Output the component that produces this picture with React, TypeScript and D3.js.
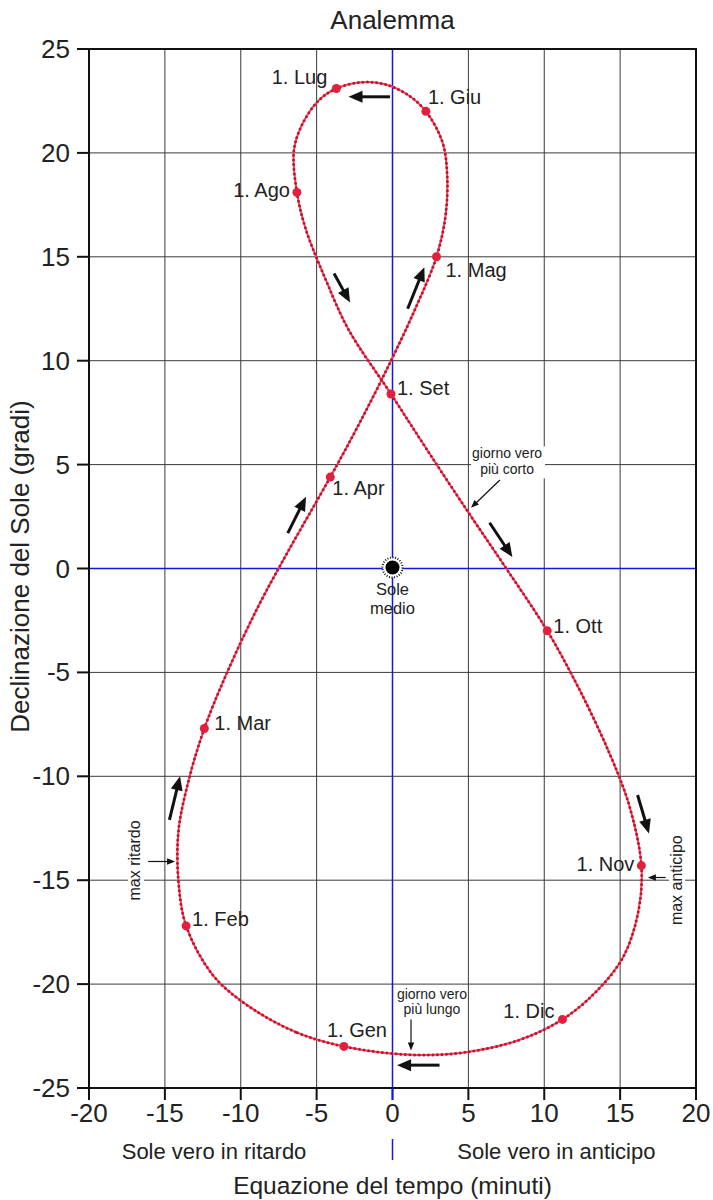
import React from 'react';
import * as d3 from 'd3';

// weekly samples of the analemma
const sampleDates = [
  '1 Gen', '8 Gen', '16 Gen', '23 Gen', '1 Feb', '8 Feb', '16 Feb', '23 Feb',
  '1 Mar', '8 Mar', '16 Mar', '23 Mar', '1 Apr', '8 Apr', '16 Apr', '23 Apr',
  '1 Mag', '8 Mag', '16 Mag', '23 Mag', '1 Giu', '8 Giu', '16 Giu', '23 Giu',
  '1 Lug', '8 Lug', '16 Lug', '23 Lug', '1 Ago', '8 Ago', '16 Ago', '23 Ago',
  '1 Set', '8 Set', '16 Set', '23 Set', '1 Ott', '8 Ott', '16 Ott', '23 Ott',
  '1 Nov', '8 Nov', '16 Nov', '23 Nov', '1 Dic', '8 Dic', '16 Dic', '23 Dic',
];
const equationOfTime = [
  -3.2, -6.4, -9.6, -11.8, -13.6, -14.1, -14.1, -13.4,
  -12.4, -10.9, -8.9, -6.9, -4.1, -2.1, -0.1, 1.5,
  2.9, 3.5, 3.6, 3.3, 2.2, 1.0, -0.5, -2.0,
  -3.7, -4.9, -6.0, -6.5, -6.3, -5.7, -4.4, -2.9,
  -0.1, 2.2, 5.0, 7.5, 10.2, 12.3, 14.3, 15.6,
  16.4, 16.2, 15.2, 13.5, 11.2, 8.3, 4.6, 1.2,
];
const declination = [
  -23.0, -22.3, -21.0, -19.6, -17.2, -15.1, -12.6, -10.1,
  -7.7, -5.0, -1.9, 0.8, 4.4, 7.1, 10.0, 12.5,
  15.0, 17.0, 19.0, 20.5, 22.0, 22.8, 23.3, 23.4,
  23.1, 22.5, 21.3, 20.1, 18.1, 16.3, 13.9, 11.5,
  8.4, 5.8, 2.7, 0.0, -3.0, -5.8, -8.9, -11.4,
  -14.3, -16.5, -18.7, -20.3, -21.7, -22.7, -23.3, -23.4,
];
const monthLabels = ['1. Gen', '1. Feb', '1. Mar', '1. Apr', '1. Mag', '1. Giu',
  '1. Lug', '1. Ago', '1. Set', '1. Ott', '1. Nov', '1. Dic'];

const xTicks = [-20, -15, -10, -5, 0, 5, 10, 15, 20];
const yTicks = [25, 20, 15, 10, 5, 0, -5, -10, -15, -20, -25];

// direction arrows along the curve, [x1, y1, x2, y2] in chart units
const flowArrows = [
  [-0.16, 22.7, -2.9, 22.7],
  [-3.85, 14.2, -2.8, 12.8],
  [1.0, 12.5, 2.1, 14.5],
  [6.4, 2.2, 7.9, 0.55],
  [-6.9, 1.7, -5.7, 3.45],
  [-14.7, -12.1, -14.0, -10.0],
  [16.15, -10.9, 16.9, -12.75],
  [3.1, -23.9, 0.3, -23.9],
];

const FONT = "'Liberation Sans', Arial, Helvetica, sans-serif";
const W = 713, H = 1200;

// label placement around each monthly point (style only)
const labelPos = [
  { dx: -17, dy: -9, a: 'start' }, { dx: 6, dy: 0, a: 'start' }, { dx: 10, dy: 1, a: 'start' },
  { dx: 2, dy: 18, a: 'start' }, { dx: 9, dy: 20, a: 'start' }, { dx: 2, dy: -7, a: 'start' },
  { dx: -9, dy: -4, a: 'end' }, { dx: -7, dy: 5, a: 'end' }, { dx: 6, dy: 1, a: 'start' },
  { dx: 6, dy: 2, a: 'start' }, { dx: -7, dy: 5, a: 'end' }, { dx: -8, dy: -1, a: 'end' },
];

const Arrow = ({ x1, y1, x2, y2, w, head, hw }) => {
  const dx = x2 - x1, dy = y2 - y1;
  const L = Math.hypot(dx, dy);
  const ux = dx / L, uy = dy / L;
  const bx = x2 - ux * head, by = y2 - uy * head;
  const px = -uy, py = ux;
  return (
    <g>
      <line x1={x1} y1={y1} x2={bx + ux} y2={by + uy} stroke="#111" strokeWidth={w} />
      <path d={`M${x2},${y2}L${bx + px * hw},${by + py * hw}L${bx - px * hw},${by - py * hw}Z`} fill="#111" />
    </g>
  );
};

export default function App() {
  const x = d3.scaleLinear().domain([-20, 20]).range([89, 696]);
  const y = d3.scaleLinear().domain([-25, 25]).range([1088, 49]);
  const idx = d3.range(equationOfTime.length);

  const curve = d3.line<number>()
    .x(i => x(equationOfTime[i]))
    .y(i => y(declination[i]))
    .curve(d3.curveCatmullRomClosed.alpha(0.5))(idx);

  const gridX = xTicks.filter(t => t !== 0 && t !== -20 && t !== 20);
  const gridY = yTicks.filter(t => t !== 0 && t !== -25 && t !== 25);

  return (
    <svg width={W} height={H} style={{ position: 'absolute', left: 0, top: 0, background: '#fff' }}
      fontFamily={FONT}>
      <rect width={W} height={H} fill="#fff" />
      <text x={x(0)} y={29} textAnchor="middle" fontSize={26} fill="#222">Analemma</text>

      {/* grid */}
      {gridX.map(t => (
        <line key={'gx' + t} x1={x(t)} x2={x(t)} y1={y(25)} y2={y(-25)} stroke="#3a3a3a" strokeWidth={1} />
      ))}
      {gridY.map(t => (
        <line key={'gy' + t} x1={x(-20)} x2={x(20)} y1={y(t)} y2={y(t)} stroke="#3a3a3a" strokeWidth={1} />
      ))}

      {/* white boxes behind annotations */}
      <rect x={x(7.55) - 36} y={y(5.3) - 12} width={74} height={32} fill="#fff" />
      <rect x={x(-16.9) - 8} y={y(-14.05) - 41} width={16} height={82} fill="#fff" />
      <rect x={x(18.75) - 8} y={y(-15.0) - 46} width={16} height={92} fill="#fff" />

      <line x1={x(0)} x2={x(0)} y1={y(25)} y2={y(-25) + 12} stroke="#1515e6" strokeWidth={1.5} />
      <line x1={x(-20)} x2={x(20)} y1={y(0)} y2={y(0)} stroke="#1515e6" strokeWidth={1.5} />
      <line x1={x(0)} x2={x(0)} y1={1139} y2={1160} stroke="#1515e6" strokeWidth={1.5} />

      {/* frame and ticks */}
      <rect x={x(-20)} y={y(25)} width={x(20) - x(-20)} height={y(-25) - y(25)} fill="none" stroke="#111" strokeWidth={2} />
      {yTicks.map(t => (
        <g key={'yt' + t}>
          <line x1={x(-20) - 12} x2={x(-20)} y1={y(t)} y2={y(t)} stroke="#111" strokeWidth={2} />
          <text x={x(-20) - 19} y={y(t) + 9} textAnchor="end" fontSize={26} fill="#222">{t}</text>
        </g>
      ))}
      {xTicks.map(t => (
        <g key={'xt' + t}>
          <line x1={x(t)} x2={x(t)} y1={y(-25)} y2={y(-25) + 12} stroke={t === 0 ? '#1515e6' : '#111'} strokeWidth={2} />
          <text x={x(t)} y={1122} textAnchor="middle" fontSize={26} fill="#222">{t}</text>
        </g>
      ))}

      <text x={x(-11.76)} y={1159} textAnchor="middle" fontSize={22} fill="#222">Sole vero in ritardo</text>
      <text x={x(10.8)} y={1159} textAnchor="middle" fontSize={22} fill="#222">Sole vero in anticipo</text>
      <text x={x(0)} y={1194} textAnchor="middle" fontSize={24.5} fill="#222">Equazione del tempo (minuti)</text>
      <text transform={`translate(29,${y(0) - 2}) rotate(-90)`} textAnchor="middle" fontSize={26} fill="#222">
        Declinazione del Sole (gradi)
      </text>

      {/* mean sun */}
      <circle cx={x(0)} cy={y(0) - 1} r={10} fill="#fff" stroke="#111" strokeWidth={2} strokeDasharray="1 1.6" />
      <circle cx={x(0)} cy={y(0) - 1} r={7} fill="#000" />
      <text x={x(0)} y={y(0) + 26} textAnchor="middle" fontSize={16.5} fill="#222">Sole</text>
      <text x={x(0)} y={y(0) + 45} textAnchor="middle" fontSize={16.5} fill="#222">medio</text>

      {/* analemma */}
      <path d={curve} fill="none" stroke="#ef4b5e" strokeWidth={2} />
      <path d={curve} fill="none" stroke="#c8102e" strokeWidth={3} strokeLinecap="round" strokeDasharray="0 4.6" />
      {monthLabels.map((m, k) => {
        const i = k * 4;
        const cx = x(equationOfTime[i]), cy = y(declination[i]);
        const p = labelPos[k];
        return (
          <g key={m}>
            <circle cx={cx} cy={cy} r={4.5} fill="#e0203c" />
            <text x={cx + p.dx} y={cy + p.dy} textAnchor={p.a} fontSize={20} fill="#222">{m}</text>
          </g>
        );
      })}

      {flowArrows.map((a, k) => (
        <Arrow key={k} x1={x(a[0])} y1={y(a[1])} x2={x(a[2])} y2={y(a[3])} w={3} head={14} hw={6} />
      ))}

      {/* annotations */}
      <text x={x(7.55)} y={y(5.3)} textAnchor="middle" fontSize={14} fill="#222">
        <tspan x={x(7.55)}>giorno vero</tspan>
        <tspan x={x(7.55)} dy={15.6}>più corto</tspan>
      </text>
      <Arrow x1={x(7.08)} y1={y(4.26)} x2={x(5.17)} y2={y(2.92)} w={1.2} head={8} hw={3.2} />

      <text x={x(2.6)} y={y(-20.71)} textAnchor="middle" fontSize={14} fill="#222">
        <tspan x={x(2.6)}>giorno vero</tspan>
        <tspan x={x(2.6)} dy={15}>più lungo</tspan>
      </text>
      <Arrow x1={x(1.22)} y1={y(-21.7)} x2={x(1.22)} y2={y(-23.2)} w={1.2} head={8} hw={3.2} />

      <text transform={`translate(${x(-16.62)},${y(-14.05)}) rotate(-90)`} textAnchor="middle" fontSize={16} fill="#222">max ritardo</text>
      <Arrow x1={x(-16.1)} y1={y(-14.1)} x2={x(-14.33)} y2={y(-14.1)} w={1.2} head={8} hw={3.2} />

      <text transform={`translate(${x(19.07)},${y(-15.0)}) rotate(-90)`} textAnchor="middle" fontSize={16} fill="#222">max anticipo</text>
      <Arrow x1={x(18.0)} y1={y(-14.87)} x2={x(16.83)} y2={y(-14.87)} w={1.2} head={8} hw={3.2} />
    </svg>
  );
}
